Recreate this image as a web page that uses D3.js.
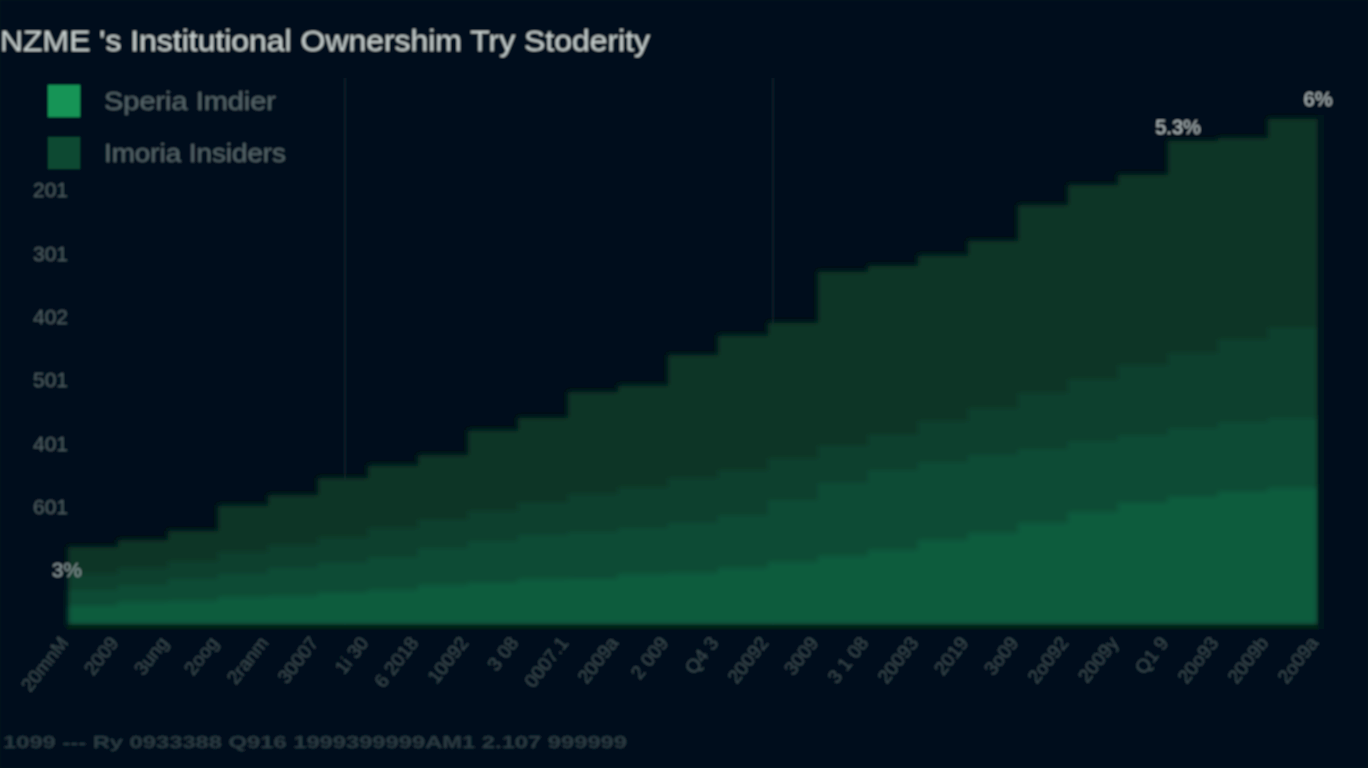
<!DOCTYPE html>
<html>
<head>
<meta charset="utf-8">
<script src="https://cdn.jsdelivr.net/npm/d3@7/dist/d3.min.js"></script>
<style>
  html, body { margin: 0; padding: 0; background: #04111a; }
  svg { display: block; }
  text { font-family: "Liberation Sans", Arial, sans-serif; }
</style>
</head>
<body>
<svg id="chart" width="1368" height="768"></svg>
<script>
// ---- data ----
const titleText = "NZME 's Institutional Ownershim Try Stoderity";
const legendLabels = ["Speria Imdier", "Imoria Insiders"];
const periods = ["20mnM", "2009", "3ung", "2oog", "2ranm", "30007", "1i 30", "6 2018", "10092", "3 08",
                 "0007.1", "2009a", "2 009", "Q4 3", "20092", "3009", "3 1 08", "20093", "2019", "3o09",
                 "2o092", "2009y", "Q1 9", "20o93", "2009b", "2o09a"];
const yTickLabels = ["201", "301", "402", "501", "401", "601", "3%"];
// layer thickness in %, bottom to top
const layer1 = [0.24,0.27,0.29,0.33,0.35,0.39,0.42,0.47,0.51,0.54,0.56,0.60,0.62,0.68,0.75,0.82,0.89,1.00,1.09,1.21,1.33,1.45,1.52,1.58,1.62,1.65];
const layer2 = [0.18,0.21,0.25,0.27,0.32,0.34,0.39,0.44,0.48,0.52,0.54,0.55,0.58,0.62,0.73,0.85,0.94,0.92,0.91,0.87,0.84,0.79,0.80,0.81,0.82,0.84];
const layer3 = [0.18,0.20,0.22,0.26,0.27,0.31,0.33,0.34,0.36,0.39,0.44,0.48,0.53,0.53,0.49,0.45,0.42,0.49,0.56,0.65,0.73,0.82,0.89,0.98,1.07,1.19];
const layer4 = [0.32,0.32,0.35,0.55,0.59,0.69,0.74,0.75,0.94,0.99,1.20,1.19,1.45,1.58,1.59,2.04,1.98,1.94,1.96,2.21,2.28,2.24,2.49,2.36,2.45,2.33];
const peakLabels = [{idx: 22, text: "5.3%"}, {idx: 25, text: "6%"}];
const footText = "1099 ---  Ry 0933388  Q916  1999399999AM1  2.107  999999";

// ---- layout ----
const svg = d3.select("#chart");
const W = 1368, H = 768;
const mLeft = 68, mRight = 1318, mTop = 115, mBottom = 625;

const defs = svg.append("defs");
defs.append("filter").attr("id", "soft").attr("x", "-5%").attr("y", "-5%").attr("width", "110%").attr("height", "110%")
  .append("feGaussianBlur").attr("stdDeviation", 1.2);
defs.append("filter").attr("id", "softer").attr("x", "-5%").attr("y", "-5%").attr("width", "110%").attr("height", "110%")
  .append("feGaussianBlur").attr("stdDeviation", 2.4);

const root = svg.append("g").attr("filter", "url(#soft)");
root.append("rect").attr("width", W).attr("height", H).attr("fill", "#04111a");

const idx = d3.range(periods.length);
const x = d3.scalePoint().domain(idx).range([mLeft, mRight]);
const y = d3.scaleLinear().domain([0, 6]).range([mBottom, mTop]);

// faint vertical grid
[345, 773].forEach(gx => {
  root.append("line").attr("x1", gx).attr("x2", gx).attr("y1", 78).attr("y2", mBottom)
    .attr("stroke", "#0c1c25").attr("stroke-width", 2);
});

// stacked areas
const keys = ["l1", "l2", "l3", "l4"];
const rows = idx.map(i => ({i, l1: layer1[i], l2: layer2[i], l3: layer3[i], l4: layer4[i]}));
const stack = d3.stack().keys(keys)(rows);
const colors = ["#0e5b3e", "#0c4b34", "#0a412e", "#073526"];
const area = d3.area()
  .x(d => x(d.data.i))
  .y0(d => y(d[0]))
  .y1(d => y(d[1]))
  .curve(d3.curveStepAfter);
root.append("g").attr("filter", "url(#softer)")
  .selectAll("path.layer").data(stack).join("path")
  .attr("class", "layer")
  .attr("d", area)
  .attr("fill", (d, i) => colors[i]);

// dark frame lines at bottom and right of plot
root.append("line").attr("x1", mLeft).attr("x2", mRight + 4).attr("y1", mBottom + 2).attr("y2", mBottom + 2)
  .attr("stroke", "#062419").attr("stroke-width", 4);
root.append("line").attr("x1", mRight + 3).attr("x2", mRight + 3).attr("y1", mTop).attr("y2", mBottom + 4)
  .attr("stroke", "#03131b").attr("stroke-width", 6);

// y labels
const yLab = d3.scalePoint().domain(d3.range(yTickLabels.length)).range([190, 570]);
root.selectAll("text.ylab").data(yTickLabels).join("text")
  .attr("class", "ylab")
  .attr("x", (d, i) => i === yTickLabels.length - 1 ? 82 : 68)
  .attr("y", (d, i) => yLab(i))
  .attr("dy", "0.35em")
  .attr("text-anchor", "end")
  .attr("font-size", 21)
  .attr("fill", (d, i) => i === yTickLabels.length - 1 ? "#8e9c9f" : "#4c5b60")
  .text(d => d);

// x labels rotated
const xAxis = root.append("g");
periods.forEach((p, i) => {
  xAxis.append("text")
    .attr("transform", `translate(${x(i) - 4},${mBottom + 14}) rotate(-52)`)
    .attr("text-anchor", "end")
    .attr("dy", "0.35em")
    .attr("font-size", 19)
    .attr("fill", "#3a4a50")
    .text(p);
});

// peak labels
peakLabels.forEach(pl => {
  const tot = layer1[pl.idx] + layer2[pl.idx] + layer3[pl.idx] + layer4[pl.idx];
  const last = pl.idx === periods.length - 1;
  root.append("text")
    .attr("x", last ? x(pl.idx) : x(pl.idx) + 10)
    .attr("y", y(tot) - (last ? 8 : 7))
    .attr("text-anchor", "middle")
    .attr("font-size", 20)
    .attr("fill", "#b9c3c4")
    .text(pl.text);
});

// title
root.append("text").attr("x", 0).attr("y", 51)
  .attr("font-size", 29).attr("fill", "#c7d0cf")
  .attr("textLength", 650).attr("lengthAdjust", "spacingAndGlyphs")
  .text(titleText);

// legend
const legColors = ["#159457", "#0c4a32"];
const legWidths = [172, 182];
legendLabels.forEach((l, i) => {
  root.append("rect").attr("x", 48).attr("y", 85 + i * 52).attr("width", 32).attr("height", 32)
    .attr("fill", legColors[i]);
  root.append("text").attr("x", 104).attr("y", 101 + i * 52).attr("dy", "0.35em")
    .attr("font-size", 25).attr("fill", "#56666b")
    .attr("textLength", legWidths[i]).attr("lengthAdjust", "spacingAndGlyphs")
    .text(l);
});

// footer
root.append("text").attr("x", 3).attr("y", 742).attr("dy", "0.35em")
  .attr("font-size", 17).attr("font-weight", "bold").attr("fill", "#2c3b42")
  .attr("textLength", 624).attr("lengthAdjust", "spacingAndGlyphs")
  .text(footText);
</script>
</body>
</html>
